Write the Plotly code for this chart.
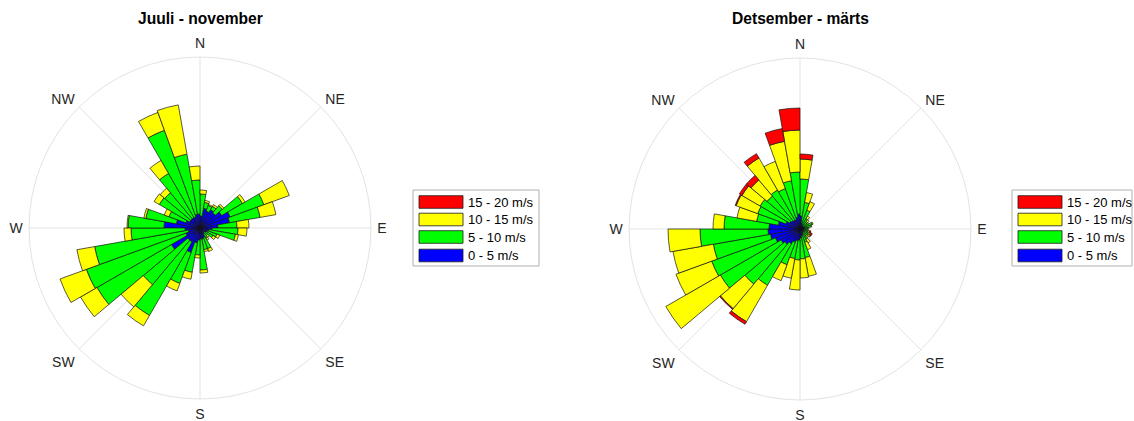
import plotly.graph_objects as go

# Sector centres in compass degrees (10-degree sectors)
sector_deg = list(range(5, 360, 10))

compass_ticks = [0, 45, 90, 135, 180, 225, 270, 315]
compass_labels = ["N", "NE", "E", "SE", "S", "SW", "W", "NW"]

speed_bins = ["0 - 5 m/s", "5 - 10 m/s", "10 - 15 m/s", "15 - 20 m/s"]
bin_colors = ["#0000ff", "#00ff00", "#ffff00", "#ff0000"]

titles = ["Juuli - november", "Detsember - märts"]

# Frequency (%) per sector, July - November
jul_nov_0_5 = [0.60, 1.00, 0.90, 1.05, 1.00, 1.25, 1.60, 1.50, 0.90, 0.60,
               0.45, 0.40, 0.35, 0.30, 0.35, 0.50, 0.55, 0.55, 0.60, 0.75,
               1.30, 0.80, 0.80, 1.65, 0.75, 0.60, 0.75, 1.80, 1.20, 0.75,
               0.60, 0.60, 0.60, 0.60, 0.70, 0.70]
jul_nov_5_10 = [1.10, 0.30, 0.30, 0.20, 0.45, 1.20, 1.80, 1.55, 0.95, 1.30,
                1.35, 0.50, 0.40, 0.20, 0.25, 0.60, 0.55, 1.55, 0.75, 1.50,
                1.65, 4.25, 2.90, 4.30, 5.30, 4.75, 2.70, 1.80, 1.55, 0.90,
                1.75, 1.70, 2.55, 4.60, 3.05, 1.70]
jul_nov_10_15 = [0.20, 0.10, 0.05, 0.10, 0.10, 0.15, 1.35, 0.80, 0.60, 0.45,
                 0.15, 0.15, 0.15, 0.10, 0.10, 0.15, 0.10, 0.15, 0.15, 0.35,
                 0.40, 0.60, 1.45, 0.95, 1.40, 0.90, 0.35, 0.05, 0.10, 0.25,
                 0.30, 0.30, 0.75, 0.95, 2.50, 0.70]
jul_nov_15_20 = [0.0] * 36

# Frequency (%) per sector, December - March
dec_mar_0_5 = [0.65, 0.30, 0.25, 0.20, 0.20, 0.20, 0.25, 0.25, 0.20, 0.20,
               0.20, 0.20, 0.20, 0.20, 0.25, 0.30, 0.35, 0.45, 0.55, 0.60,
               0.70, 0.85, 1.00, 1.10, 1.30, 1.50, 1.60, 1.55, 1.10, 0.75,
               0.60, 0.55, 0.50, 0.50, 0.60, 0.75]
dec_mar_5_10 = [1.85, 1.05, 0.75, 0.40, 0.30, 0.25, 0.40, 0.30, 0.20, 0.15,
                0.20, 0.25, 0.30, 0.25, 0.35, 0.40, 1.10, 1.05, 1.00, 0.90,
                1.20, 2.40, 2.60, 3.50, 3.40, 2.90, 3.40, 2.25, 1.10, 1.50,
                1.70, 1.60, 1.75, 1.65, 1.85, 2.10]
dec_mar_10_15 = [1.00, 0.50, 0.45, 0.15, 0.10, 0.05, 0.05, 0.05, 0.05, 0.05,
                 0.10, 0.10, 0.10, 0.10, 0.20, 0.40, 0.95, 0.95, 1.50, 1.00,
                 0.85, 2.10, 1.60, 3.15, 1.90, 2.05, 1.60, 0.55, 1.00, 1.15,
                 1.05, 1.05, 1.85, 1.45, 2.00, 2.10]
dec_mar_15_20 = [0.25, 0.00, 0.00, 0.00, 0.00, 0.00, 0.00, 0.00, 0.00, 0.00,
                 0.05, 0.10, 0.03, 0.00, 0.00, 0.00, 0.00, 0.00, 0.00, 0.00,
                 0.00, 0.15, 0.05, 0.00, 0.00, 0.00, 0.00, 0.00, 0.00, 0.05,
                 0.15, 0.30, 0.25, 0.00, 0.65, 1.10]

seasons = [
    [jul_nov_0_5, jul_nov_5_10, jul_nov_10_15, jul_nov_15_20],
    [dec_mar_0_5, dec_mar_5_10, dec_mar_10_15, dec_mar_15_20],
]

radial_max = 8.55

W, H = 1134, 421
fig = go.Figure()

polar_names = ["polar", "polar2"]
for season, pname in zip(seasons, polar_names):
    for values, name, color in zip(season, speed_bins, bin_colors):
        fig.add_trace(go.Barpolar(
            r=values, theta=sector_deg, width=[10] * len(sector_deg),
            name=name, subplot=pname, showlegend=False,
            marker=dict(color=color, line=dict(color="#141414", width=0.7)),
        ))

font_family = "Arial, Liberation Sans, sans-serif"
text_color = "#262626"
grid_color = "#e3e3e3"


def polar_layout(cx, cy, rad):
    return dict(
        domain=dict(x=[(cx - rad) / W, (cx + rad) / W],
                    y=[(H - cy - rad) / H, (H - cy + rad) / H]),
        bgcolor="white",
        barmode="stack",
        bargap=0,
        radialaxis=dict(range=[0, radial_max], visible=True, showgrid=False,
                        showline=False, showticklabels=False, ticks=""),
        angularaxis=dict(direction="clockwise", rotation=90,
                         tickmode="array", tickvals=compass_ticks,
                         ticktext=compass_labels,
                         ticks="outside", ticklen=3, tickcolor="rgba(0,0,0,0)",
                         showgrid=True, gridcolor=grid_color, gridwidth=1,
                         showline=True, linecolor=grid_color, linewidth=1,
                         tickfont=dict(size=14, color=text_color,
                                       family=font_family)),
    )


centres = [(200, 228), (800, 229)]
fig.update_layout(
    width=W, height=H,
    margin=dict(l=0, r=0, t=0, b=0),
    paper_bgcolor="white",
    plot_bgcolor="white",
    polar=polar_layout(200, 228, 171),
    polar2=polar_layout(800, 229, 171),
    showlegend=False,
    font=dict(family=font_family, color=text_color),
)

shapes = []
annotations = []

# Titles
for (cx, cy), title in zip(centres, titles):
    annotations.append(dict(
        x=cx / W, y=1 - 18 / H, xref="paper", yref="paper",
        text="<b>%s</b>" % title, showarrow=False,
        xanchor="center", yanchor="middle",
        font=dict(size=15.6, color="black", family=font_family)))

# Legend boxes, one per rose
legend_boxes = [(413, 539), (1012, 1132)]
box_top, box_bottom = 190, 266
row_centres = [202, 219.5, 237, 255.5]
for (bx0, bx1) in legend_boxes:
    shapes.append(dict(type="rect", xref="paper", yref="paper",
                       x0=bx0 / W, x1=bx1 / W,
                       y0=1 - box_bottom / H, y1=1 - box_top / H,
                       line=dict(color="#b0b0b0", width=1),
                       fillcolor="white", layer="above"))
    # highest speed at the top
    for yc, name, color in zip(row_centres, speed_bins[::-1], bin_colors[::-1]):
        sx0, sx1 = bx0 + 6, bx0 + 50
        shapes.append(dict(type="rect", xref="paper", yref="paper",
                           x0=sx0 / W, x1=sx1 / W,
                           y0=1 - (yc + 6.3) / H, y1=1 - (yc - 6.3) / H,
                           line=dict(color="#1a1a1a", width=0.8),
                           fillcolor=color, layer="above"))
        annotations.append(dict(
            x=(sx1 + 3) / W, y=1 - yc / H, xref="paper", yref="paper",
            text=name, showarrow=False, xanchor="left", yanchor="middle",
            font=dict(size=13, color="black", family=font_family)))

fig.update_layout(shapes=shapes, annotations=annotations)

fig.write_html("out.html")
